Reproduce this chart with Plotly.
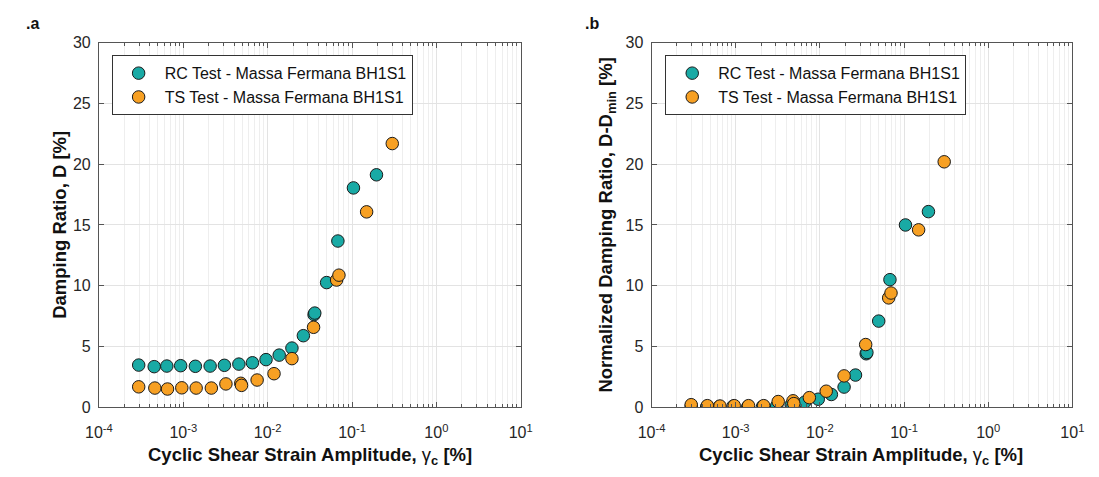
import plotly.graph_objects as go

# ---------------- data ----------------
rc_strain = [2.96e-4, 4.52e-4, 6.38e-4, 9.3e-4, 1.39e-3, 2.08e-3, 3.07e-3, 4.56e-3,
             6.6e-3, 9.57e-3, 1.37e-2, 1.94e-2, 2.65e-2, 3.55e-2, 3.62e-2, 5.0e-2,
             6.8e-2, 0.104, 0.195]
rc_damping = [3.47, 3.34, 3.39, 3.42, 3.37, 3.39, 3.45, 3.55, 3.66, 3.92, 4.29, 4.87,
              5.89, 7.62, 7.75, 10.26, 13.68, 18.05, 19.13]
rc_norm = [0.10, 0.02, 0.05, 0.08, 0.03, 0.05, 0.10, 0.20, 0.42, 0.66, 1.05, 1.66,
           2.65, 4.40, 4.50, 7.09, 10.5, 15.0, 16.1]

ts_strain = [2.96e-4, 4.6e-4, 6.5e-4, 9.6e-4, 1.42e-3, 2.15e-3, 3.2e-3, 4.8e-3, 4.9e-3,
             7.5e-3, 1.19e-2, 1.94e-2, 3.5e-2, 6.57e-2, 7.0e-2, 0.149, 0.30]
ts_damping = [1.68, 1.58, 1.50, 1.60, 1.58, 1.58, 1.92, 1.97, 1.80, 2.24, 2.76, 4.00,
              6.58, 10.47, 10.87, 16.08, 21.7]
ts_norm = [0.21, 0.13, 0.10, 0.13, 0.13, 0.13, 0.47, 0.53, 0.30, 0.79, 1.32, 2.58,
           5.16, 9.0, 9.4, 14.6, 20.2]

x_tickvals = [1e-4, 1e-3, 1e-2, 1e-1, 1e0, 1e1]
x_ticktext = ["10<sup>-4</sup>", "10<sup>-3</sup>", "10<sup>-2</sup>",
              "10<sup>-1</sup>", "10<sup>0</sup>", "10<sup>1</sup>"]
y_tickvals = [0, 5, 10, 15, 20, 25, 30]

rc_name = "RC Test - Massa Fermana BH1S1"
ts_name = "TS Test - Massa Fermana BH1S1"

# ---------------- style ----------------
TEAL = "#19AAA5"
ORANGE = "#F7A023"
FONT = "Arial, Liberation Sans, Helvetica, sans-serif"
AXCOL = "#555555"
GRID = "#e3e3e3"
MINORGRID = "#eeeeee"
W, H = 1099, 477

minor_vals = [m * 10.0 ** e for e in range(-4, 1) for m in range(2, 10)]

fig = go.Figure()

def add(x, y, name, color, xa, ya, legend):
    fig.add_trace(go.Scatter(
        x=x, y=y, mode="markers", name=name, xaxis=xa, yaxis=ya, legend=legend,
        marker=dict(size=12.5, color=color, line=dict(color="#1a1a1a", width=1)),
    ))

add(rc_strain, rc_damping, rc_name, TEAL, "x", "y", "legend")
add(ts_strain, ts_damping, ts_name, ORANGE, "x", "y", "legend")
add(rc_strain, rc_norm, rc_name, TEAL, "x2", "y2", "legend2")
add(ts_strain, ts_norm, ts_name, ORANGE, "x2", "y2", "legend2")

def xax(domain, anchor):
    return dict(
        type="log", range=[-4, 1], domain=domain, anchor=anchor,
        tickmode="array", tickvals=x_tickvals, ticktext=x_ticktext,
        ticks="inside", ticklen=5, tickcolor=AXCOL, ticklabelstandoff=11,
        showline=True, linecolor=AXCOL, linewidth=1, mirror="ticks",
        showgrid=True, gridcolor=GRID, gridwidth=1,
        minor=dict(tickmode="array", tickvals=minor_vals, ticks="inside", ticklen=3,
                   tickcolor=AXCOL, showgrid=True, gridcolor=MINORGRID, gridwidth=1),
        tickfont=dict(family=FONT, size=16, color="#262626"),
        zeroline=False,
    )

def yax(domain, anchor):
    return dict(
        range=[0, 30], domain=domain, anchor=anchor,
        tickmode="array", tickvals=y_tickvals,
        ticks="inside", ticklen=5, tickcolor=AXCOL, ticklabelstandoff=4,
        showline=True, linecolor=AXCOL, linewidth=1, mirror="ticks",
        showgrid=True, gridcolor=GRID, gridwidth=1, zeroline=False,
        tickfont=dict(family=FONT, size=16, color="#262626"),
    )

ydom = [1 - 414 / H, 1 - 36 / H]
x1dom = [87 / W, 519 / W]
x2dom = [653 / W, 1084 / W]

legend_style = dict(
    xanchor="left", yanchor="top", bgcolor="white",
    bordercolor="#333333", borderwidth=1,
    font=dict(family=FONT, size=16, color="#111111"),
    tracegroupgap=0, itemwidth=42,
)

fig.update_layout(
    width=W, height=H,
    margin=dict(l=0, r=0, t=0, b=0),
    paper_bgcolor="white", plot_bgcolor="white",
    showlegend=True,
    xaxis=xax(x1dom, "y"), yaxis=yax(ydom, "x"),
    xaxis2=xax(x2dom, "y2"), yaxis2=yax(ydom, "x2"),
    legend=dict(x=100 / W, y=1 - 49 / H, **legend_style),
    legend2=dict(x=667 / W, y=1 - 49 / H, **legend_style),
    font=dict(family=FONT),
)

ann = []
def t(x, y, text, size, angle=0, xanchor="center"):
    ann.append(dict(
        x=x / W, y=1 - y / H, xref="paper", yref="paper", text=text, showarrow=False,
        textangle=angle, xanchor=xanchor, yanchor="middle",
        font=dict(family=FONT, size=size, color="#111111"),
    ))

XT = "<b>Cyclic Shear Strain Amplitude, </b>γ<sub><b>c</b></sub><b> [%]</b>"
t(303, 465, XT, 18.5)
t(868, 465, XT, 18.5)
t(47, 225, "<b>Damping Ratio, D [%]</b>", 18.5, angle=-90)
t(607, 225, "<b>Normalized Damping Ratio, D-D<sub>min</sub> [%]</b>", 18.5, angle=-90)
t(10, 16, "<b>.a</b>", 16, xanchor="left")
t(583, 16, "<b>.b</b>", 16, xanchor="left")

fig.update_layout(annotations=ann)

fig.write_html("out.html")
